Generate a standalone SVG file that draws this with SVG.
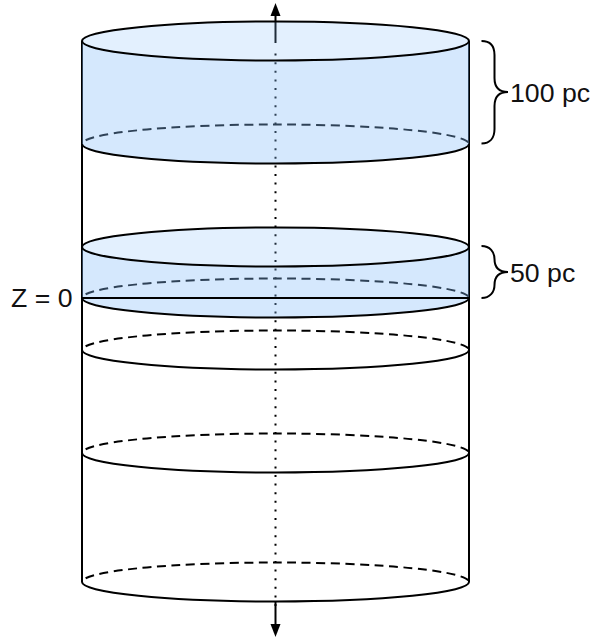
<svg xmlns="http://www.w3.org/2000/svg" width="592" height="638" viewBox="0 0 592 638">
<style>
.s{fill:none;stroke:#000;stroke-width:2}
.d{fill:none;stroke:#000;stroke-width:2;stroke-dasharray:9 5.500;stroke-dashoffset:9}
.t{font-family:"Liberation Sans",Arial,sans-serif;font-size:26.670px;fill:#111}
.b{fill:#86bdf9;fill-opacity:.35;stroke:none}
.l{fill:#86bdf9;fill-opacity:.23;stroke:none}
.x{fill:none;stroke:#000;stroke-width:2}
</style>
<defs>
<marker id="a" markerUnits="userSpaceOnUse" markerWidth="14" markerHeight="12" refX="1" refY="6" orient="auto" viewBox="0 0 14 12"><path d="M0 1L13 6L0 11Z" fill="#000"/></marker>
</defs>
<rect width="592" height="638" fill="#fff"/>
<g id="connectors">
<path d="M275.500 606V50" fill="none" stroke="#000" stroke-width="2" stroke-dasharray="2 6.600"/>
<path class="x" d="M275.500 43V15" marker-end="url(#a)"/>
<path class="x" d="M275.500 601V625" marker-end="url(#a)"/>
</g>
<g id="cylinder">
<path class="s" d="M82 41V582M469 41V582"/>
<path class="s" d="M82 350A193.500 19.500 0 0 0 469 350"/>
<path class="d" d="M82 350A193.500 19.500 0 0 1 469 350"/>
<path class="s" d="M82 453A193.500 19.500 0 0 0 469 453"/>
<path class="d" d="M82 453A193.500 19.500 0 0 1 469 453"/>
<path class="s" d="M82 582A193.500 19.500 0 0 0 469 582"/>
<path class="d" d="M82 582A193.500 19.500 0 0 1 469 582"/>
</g>
<g id="slab-100">
<path class="d" d="M82 144A193.500 19.500 0 0 1 469 144"/>
<path class="b" d="M82 41A193.500 19.500 0 0 0 469 41V144A193.500 19.500 0 0 1 82 144Z"/>
<ellipse class="l" cx="275.500" cy="41" rx="193.500" ry="19.500"/>
<ellipse class="s" cx="275.500" cy="41" rx="193.500" ry="19.500"/>
<path class="s" d="M82 144A193.500 19.500 0 0 0 469 144"/>
</g>
<g id="slab-50">
<path class="d" d="M82 298A193.500 19.500 0 0 1 469 298"/>
<path class="b" d="M82 247A193.500 19.500 0 0 0 469 247V298A193.500 19.500 0 0 1 82 298Z"/>
<ellipse class="l" cx="275.500" cy="247" rx="193.500" ry="19.500"/>
<ellipse class="s" cx="275.500" cy="247" rx="193.500" ry="19.500"/>
<path class="s" d="M82 298A193.500 19.500 0 0 0 469 298"/>
<path class="s" d="M82 298H469"/>
</g>
<g id="brace-100">
<path class="s" d="M481.500 41C490 41 494.500 46 494.500 55V78C494.500 87 499 92 508 92C499 92 494.500 97 494.500 106V129C494.500 138 490 143.500 481.500 143.500"/>
<text class="t" x="510" y="102">100 pc</text>
</g>
<g id="brace-50">
<path class="s" d="M481.500 246C490 246 494.500 252 494.500 259C494.500 267 499 272 508 272C499 272 494.500 277 494.500 285C494.500 292 490 298 481.500 298"/>
<text class="t" x="510" y="282">50 pc</text>
</g>
<g id="label-z">
<text class="t" x="11" y="307">Z = 0</text>
</g>
</svg>
